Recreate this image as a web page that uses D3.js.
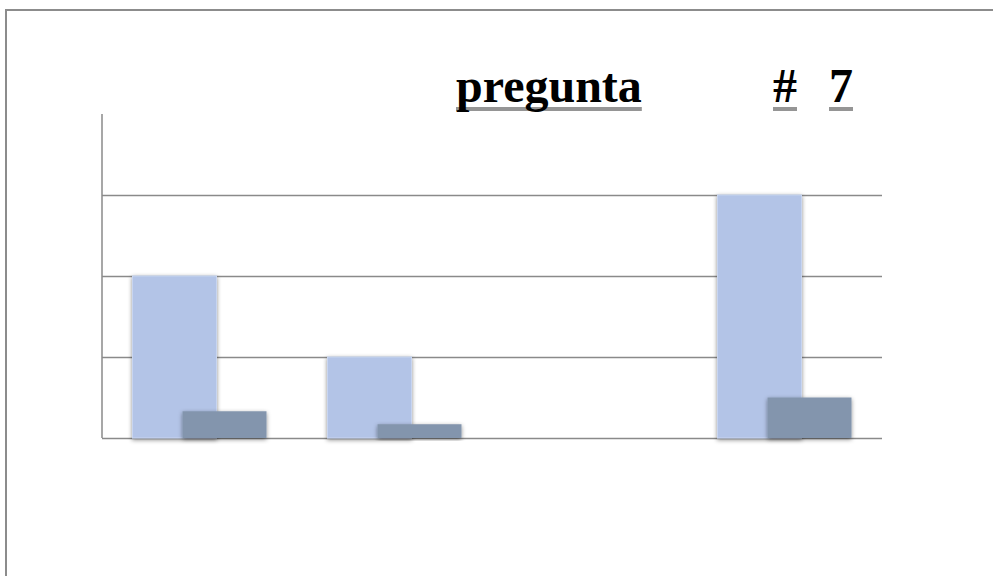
<!DOCTYPE html>
<html>
<head>
<meta charset="utf-8">
<script src="https://cdn.jsdelivr.net/npm/d3@7"></script>
<style>
  body { margin: 0; background: #fff; overflow: hidden; }
  svg { display: block; }
</style>
</head>
<body>
<script>
"use strict";

// data
var categories = ["1", "2", "3", "4"];
var seriesNames = ["frecuencia", "porcentaje"];
var seriesA = [2, 1, 0, 3];
var seriesB = [0.33, 0.17, 0, 0.5];
var yTicks = [0, 1, 2, 3, 4];
var titleWords = ["pregunta", "#", "7"];

var W = 993, H = 576;
var plot = { left: 102, right: 882, top: 114, bottom: 438 };

var svg = d3.select("body").append("svg").attr("width", W).attr("height", H);

// soft drop shadow like the office chart
var defs = svg.append("defs");
var f = defs.append("filter").attr("id", "shadow").attr("x", "-20%").attr("y", "-20%").attr("width", "140%").attr("height", "140%");
f.append("feDropShadow").attr("dx", 0).attr("dy", 1.5).attr("stdDeviation", 2.2)
  .attr("flood-color", "#000").attr("flood-opacity", 0.45);

//Outer frame (only top and left edges are inside the picture)
svg.append("path").attr("d", "M6," + H + "V10H" + W)
  .attr("fill", "none").attr("stroke", "#8c8c8c").attr("stroke-width", 2);

//Scales
var x0 = d3.scaleBand().domain(categories).range([plot.left, plot.right]).paddingInner(0);
var x1 = d3.scalePoint().domain(seriesNames).range([-67, -17]);
var barW = 84;
var y = d3.scaleLinear().domain([0, 4]).range([plot.bottom, plot.top]);

//Gridlines
var grid = svg.append("g").attr("transform", "translate(" + plot.left + ",0)")
  .call(d3.axisLeft(y).tickValues(yTicks.slice(0, 4)).tickSize(-(plot.right - plot.left)).tickFormat(""));
grid.select(".domain").remove();
grid.selectAll(".tick line").attr("stroke", "#8a8a8a").attr("stroke-width", 1.5);

//Y axis line
svg.append("line").attr("x1", plot.left).attr("x2", plot.left)
  .attr("y1", y(4)).attr("y2", y(0)).attr("stroke", "#8a8a8a").attr("stroke-width", 1.5);

//Bars
var rows = categories.map(function (c, i) {
  return { cat: c, vals: [{ s: seriesNames[0], v: seriesA[i] }, { s: seriesNames[1], v: seriesB[i] }] };
});

var groups = svg.append("g").selectAll("g").data(rows).enter().append("g")
  .attr("transform", function (d) { return "translate(" + (x0(d.cat) + x0.bandwidth() / 2) + ",0)"; });

groups.selectAll("rect").data(function (d) { return d.vals.filter(function (e) { return e.v > 0; }); })
  .enter().append("rect")
  .attr("x", function (d) { return x1(d.s); })
  .attr("y", function (d) { return y(d.v); })
  .attr("width", barW)
  .attr("height", function (d) { return y(0) - y(d.v); })
  .attr("fill", function (d) { return d.s === seriesNames[0] ? "#b3c4e7" : "#8395ad"; })
  .attr("stroke", function (d) { return d.s === seriesNames[0] ? "#c8d5f0" : "none"; })
  .attr("stroke-width", 1)
  .attr("filter", "url(#shadow)");

//Title with gray word underlines
var titleX = [456, 773, 829];
var title = svg.append("g");
titleWords.forEach(function (wd, i) {
  var t = title.append("text").attr("x", titleX[i]).attr("y", 102)
    .attr("font-family", "'Liberation Serif', 'Times New Roman', serif")
    .attr("font-weight", "bold").attr("font-size", 48).attr("fill", "#000").text(wd);
  var len = t.node().getComputedTextLength();
  title.insert("rect", "text").attr("x", titleX[i]).attr("y", 107).attr("width", len).attr("height", 4)
    .attr("fill", "#959595");
});
</script>
</body>
</html>
